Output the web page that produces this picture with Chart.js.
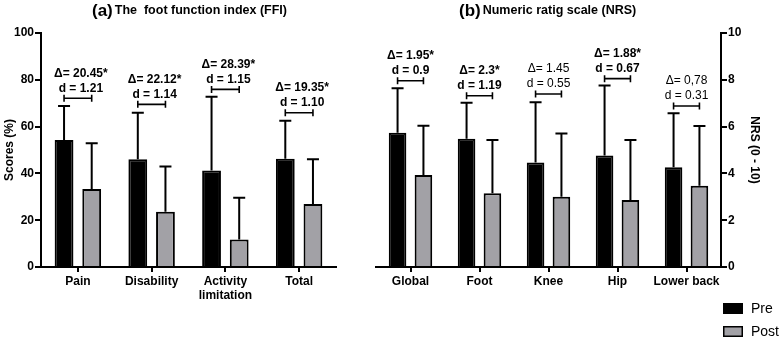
<!DOCTYPE html>
<html>
<head>
<meta charset="utf-8">
<title>FFI and NRS pre / post</title>
<script src="https://cdn.jsdelivr.net/npm/chart.js@4.4.0/dist/chart.umd.min.js"></script>
<style>
  body { margin: 0; background: #fff; }
  #wrap { position: relative; width: 780px; height: 337px; overflow: hidden; }
  #chartA { position: absolute; left: 0; top: 0; }
  #chartB { position: absolute; left: 360px; top: 0; }
</style>
</head>
<body>
<div id="wrap">
  <canvas id="chartA" width="360" height="337"></canvas>
  <canvas id="chartB" width="420" height="337"></canvas>
</div>

<script type="text/javascript">
// (a) foot function index
var ffiLabels = ['Pain', 'Disability', ['Activity', 'limitation'], 'Total'];
var ffiPre = [54.3, 46.0, 41.2, 46.3];
var ffiPreSD = [14.5, 19.9, 31.6, 16.2];
var ffiPost = [33.3, 23.6, 11.8, 26.9];
var ffiPostSD = [19.6, 19.3, 17.8, 19.1];
var ffiBracket = [72.1, 69.5, 75.9, 65.9];
var ffiDelta = ['\u0394= 20.45*', '\u0394= 22.12*', '\u0394= 28.39*', '\u0394= 19.35*'];
var ffiD = ['d = 1.21', 'd = 1.14', 'd = 1.15', 'd = 1.10'];
var ffiTicks = [0, 20, 40, 60, 80, 100];

// (b) numeric rating scale
var nrsLabels = ['Global', 'Foot', 'Knee', 'Hip', 'Lower back'];
var nrsPre = [5.74, 5.48, 4.47, 4.77, 4.26];
var nrsPreSD = [1.90, 1.54, 2.57, 2.99, 2.31];
var nrsPost = [3.93, 3.15, 3.00, 2.86, 3.47];
var nrsPostSD = [2.11, 2.28, 2.71, 2.57, 2.56];
var nrsBracket = [7.96, 7.32, 7.39, 8.05, 6.88];
var nrsDelta = ['\u0394= 1.95*', '\u0394= 2.3*', '\u0394= 1.45', '\u0394= 1.88*', '\u0394= 0,78'];
var nrsD = ['d = 0.9', 'd = 1.19', 'd = 0.55', 'd = 0.67', 'd = 0.31'];
var nrsTicks = [0, 2, 4, 6, 8, 10];

var seriesNames = ['Pre', 'Post'];
var preColor = '#000000';
var postColor = '#a2a1a6';
var FONT = "'Liberation Sans', Arial, Helvetica, sans-serif";

Chart.defaults.font.family = FONT;
Chart.defaults.color = '#000';

// error bars (upward only) + significance brackets
var annotPlugin = {
  id: 'annot',
  afterDatasetsDraw: function(chart, args, opts) {
    var ctx = chart.ctx;
    var ys = chart.scales.y;
    ctx.save();
    ctx.strokeStyle = '#000';
    ctx.lineWidth = 2;
    chart.data.datasets.forEach(function(ds, i) {
      var meta = chart.getDatasetMeta(i);
      meta.data.forEach(function(el, j) {
        var top = ys.getPixelForValue(ds.data[j] + opts.sd[i][j]);
        ctx.beginPath();
        ctx.moveTo(el.x, el.y);
        ctx.lineTo(el.x, top);
        ctx.moveTo(el.x - 6, top);
        ctx.lineTo(el.x + 6, top);
        ctx.stroke();
      });
    });

    var m0 = chart.getDatasetMeta(0), m1 = chart.getDatasetMeta(1);
    ctx.fillStyle = '#000';
    ctx.textAlign = 'center';
    ctx.textBaseline = 'middle';
    opts.bracket.forEach(function(b, j) {
      var x0 = m0.data[j].x, x1 = m1.data[j].x;
      var y = ys.getPixelForValue(b);
      ctx.lineWidth = 1.6;
      ctx.beginPath();
      ctx.moveTo(x0, y); ctx.lineTo(x1, y);
      ctx.moveTo(x0, y - 3.5); ctx.lineTo(x0, y + 3.5);
      ctx.moveTo(x1, y - 3.5); ctx.lineTo(x1, y + 3.5);
      ctx.stroke();
      var bold = opts.delta[j].indexOf('*') >= 0;
      ctx.font = (bold ? 'bold ' : '') + '12px ' + FONT;
      var cx = (x0 + x1) / 2 + opts.shift;
      ctx.fillText(opts.delta[j], cx, y - 25);
      ctx.fillText(opts.d[j], cx, y - 10);
    });

    // panel title
    ctx.textAlign = 'left';
    ctx.font = 'bold 17px ' + FONT;
    ctx.fillText(opts.tag, opts.titleX, 11);
    var w = ctx.measureText(opts.tag).width;
    ctx.font = 'bold 12.5px ' + FONT;
    ctx.fillText(opts.title, opts.titleX + w + 2, 11);
    ctx.restore();
  }
};

var legendPlugin = {
  id: 'boxLegend',
  afterDraw: function(chart, args, opts) {
    if (!opts.show) return;
    var ctx = chart.ctx;
    ctx.save();
    ctx.font = '14px ' + FONT;
    ctx.textBaseline = 'middle';
    ctx.textAlign = 'left';
    chart.data.datasets.forEach(function(ds, i) {
      var y = opts.y + i * 23;
      ctx.fillStyle = ds.backgroundColor;
      ctx.fillRect(opts.x, y, 20, 11);
      ctx.strokeStyle = '#000';
      ctx.lineWidth = 1.5;
      ctx.strokeRect(opts.x + 0.75, y + 0.75, 18.5, 9.5);
      ctx.fillStyle = '#000';
      ctx.fillText(ds.label, opts.x + 28, y + 6);
    });
    ctx.restore();
  }
};

function makeChart(id, labels, pre, post, preSD, postSD, max, ticks, side, yTitle, pad, yWidth, annot, legend) {
  var tickFont = { family: FONT, size: 12, weight: 'bold' };
  return new Chart(document.getElementById(id), {
    type: 'bar',
    data: {
      labels: labels,
      datasets: [
        { label: seriesNames[0], data: pre, backgroundColor: preColor, borderColor: '#000', borderWidth: 2 },
        { label: seriesNames[1], data: post, backgroundColor: postColor, borderColor: '#000', borderWidth: 2 }
      ]
    },
    options: {
      responsive: false,
      animation: false,
      devicePixelRatio: 1,
      layout: { padding: pad },
      datasets: { bar: { categoryPercentage: 0.75, barPercentage: 0.68 } },
      plugins: {
        legend: { display: false },
        tooltip: { enabled: false },
        annot: Object.assign({ sd: [preSD, postSD] }, annot),
        boxLegend: legend
      },
      scales: {
        x: {
          offset: true,
          grid: { offset: false, drawOnChartArea: false, color: '#000', lineWidth: 2, tickLength: 5 },
          border: { color: '#000', width: 2 },
          ticks: { font: tickFont, color: '#000', padding: 2, maxRotation: 0, autoSkip: false },
          afterFit: function(s) { s.height = 70; }
        },
        y: {
          position: side,
          min: 0, max: max,
          afterBuildTicks: function(s) { s.ticks = ticks.map(function(v) { return { value: v }; }); },
          grid: { drawOnChartArea: false, color: '#000', lineWidth: 2, tickLength: 6 },
          border: { color: '#000', width: 2 },
          ticks: { font: tickFont, color: '#000', padding: 1 },
          title: { display: true, text: yTitle, font: { family: FONT, size: 12, weight: 'bold' }, color: '#000', padding: 2 },
          afterFit: function(s) { s.width = yWidth; }
        }
      }
    },
    plugins: [annotPlugin, legendPlugin]
  });
}

makeChart('chartA', ffiLabels, ffiPre, ffiPost, ffiPreSD, ffiPostSD, 100, ffiTicks, 'left', 'Scores (%)',
  { top: 33, left: 0, right: 24, bottom: 0 }, 41,
  { bracket: ffiBracket, delta: ffiDelta, d: ffiD, shift: 3, tag: '(a)', title: 'The  foot function index (FFI)', titleX: 92 },
  { show: false });

makeChart('chartB', nrsLabels, nrsPre, nrsPost, nrsPreSD, nrsPostSD, 10, nrsTicks, 'right', 'NRS (0 - 10)',
  { top: 33, left: 16, right: 16, bottom: 0 }, 43,
  { bracket: nrsBracket, delta: nrsDelta, d: nrsD, shift: 0, tag: '(b)', title: 'Numeric ratig scale (NRS)', titleX: 99 },
  { show: true, x: 363, y: 303 });
</script>
</body>
</html>
